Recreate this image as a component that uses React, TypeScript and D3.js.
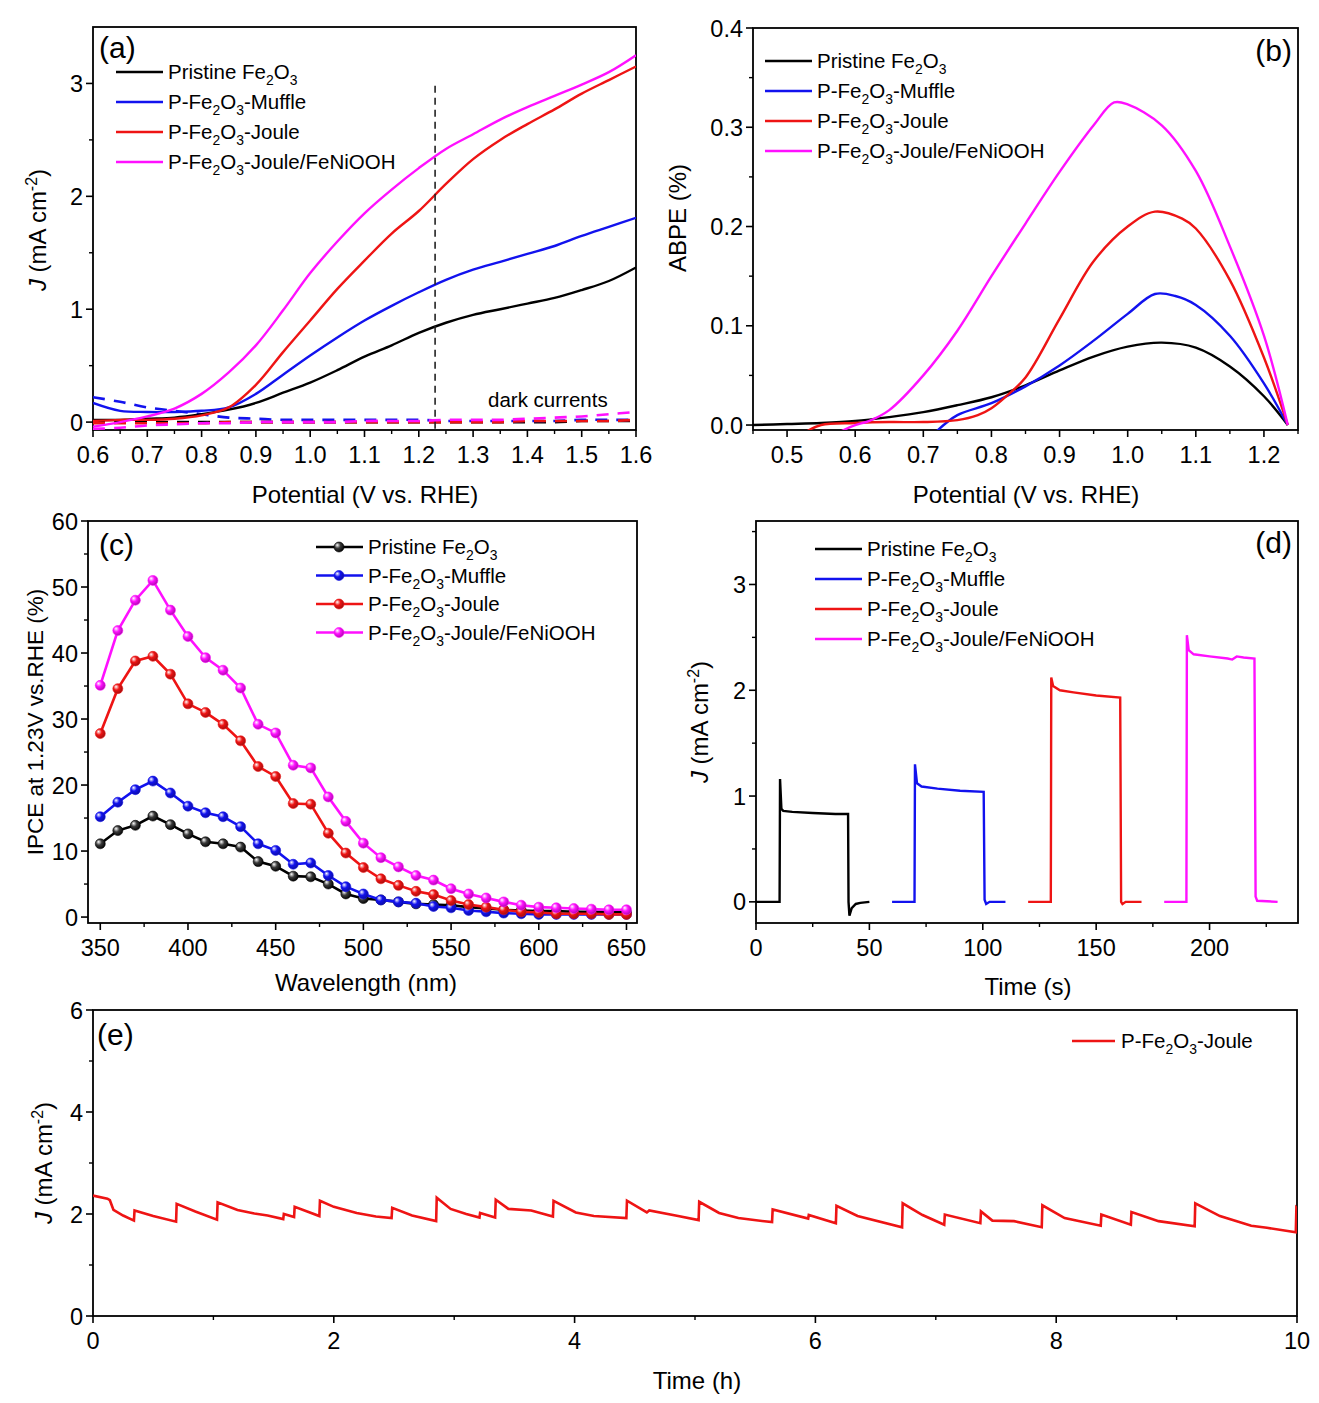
import React from 'react';
import * as d3 from 'd3';

const FONT = '"Liberation Sans", Arial, Helvetica, sans-serif';

const sampleNames = ['Pristine Fe2O3', 'P-Fe2O3-Muffle', 'P-Fe2O3-Joule', 'P-Fe2O3-Joule/FeNiOOH'];
const sampleColors = ['#000000', '#1212ee', '#ee1414', '#ff10ff'];

// (a) LSV, light (solid) and dark (dashed)
const lsvPotential = [0.6, 0.65, 0.7, 0.75, 0.8, 0.85, 0.9, 0.95, 1.0, 1.05, 1.1, 1.15, 1.2, 1.25, 1.3, 1.35, 1.4, 1.45, 1.5, 1.55, 1.6];
const lsvPristine = [0.02, 0.02, 0.03, 0.04, 0.07, 0.11, 0.17, 0.26, 0.35, 0.46, 0.58, 0.68, 0.79, 0.88, 0.95, 1.0, 1.05, 1.1, 1.17, 1.25, 1.37];
const lsvMuffle = [0.17, 0.1, 0.09, 0.09, 0.1, 0.13, 0.25, 0.42, 0.59, 0.75, 0.9, 1.03, 1.15, 1.26, 1.35, 1.42, 1.49, 1.56, 1.65, 1.73, 1.81];
const lsvJoule = [0.01, 0.02, 0.02, 0.03, 0.06, 0.13, 0.33, 0.62, 0.9, 1.18, 1.43, 1.67, 1.87, 2.11, 2.33, 2.5, 2.64, 2.77, 2.91, 3.03, 3.15];
const lsvFeNiOOH = [-0.04, 0.0, 0.05, 0.12, 0.25, 0.44, 0.68, 0.99, 1.32, 1.6, 1.85, 2.06, 2.25, 2.42, 2.55, 2.68, 2.79, 2.89, 2.99, 3.1, 3.25];
const darkPristine = [0.0, 0.0, 0.0, 0.0, 0.0, 0.0, 0.0, 0.0, 0.0, 0.0, 0.0, 0.0, 0.0, 0.0, 0.0, 0.0, 0.0, 0.0, 0.01, 0.01, 0.01];
const darkMuffle = [0.22, 0.18, 0.13, 0.1, 0.07, 0.04, 0.03, 0.02, 0.02, 0.02, 0.02, 0.02, 0.02, 0.01, 0.01, 0.01, 0.01, 0.01, 0.02, 0.02, 0.02];
const darkJoule = [-0.01, -0.01, -0.01, -0.01, -0.01, 0.0, 0.0, 0.0, 0.0, 0.0, 0.0, 0.0, 0.0, 0.0, 0.0, 0.0, 0.01, 0.01, 0.01, 0.01, 0.02];
const darkFeNiOOH = [-0.06, -0.05, -0.03, -0.02, -0.01, -0.01, 0.0, 0.0, 0.0, 0.0, 0.01, 0.01, 0.01, 0.02, 0.02, 0.02, 0.03, 0.04, 0.05, 0.07, 0.09];
const biasPotential = 1.23;

// (b) ABPE
const abpePristineV = [0.45, 0.5, 0.55, 0.6, 0.65, 0.7, 0.75, 0.8, 0.85, 0.9, 0.95, 1.0, 1.05, 1.1, 1.15, 1.2, 1.235];
const abpePristine = [0.0, 0.001, 0.002, 0.004, 0.008, 0.013, 0.02, 0.028, 0.04, 0.055, 0.069, 0.079, 0.083, 0.078, 0.059, 0.029, 0.0];
const abpeMuffleV = [0.72, 0.75, 0.8, 0.85, 0.9, 0.95, 1.0, 1.04, 1.07, 1.1, 1.15, 1.2, 1.235];
const abpeMuffle = [-0.006, 0.01, 0.022, 0.039, 0.06, 0.085, 0.112, 0.132, 0.13, 0.121, 0.09, 0.042, 0.0];
const abpeJouleV = [0.53, 0.55, 0.6, 0.65, 0.7, 0.75, 0.78, 0.8, 0.82, 0.85, 0.9, 0.95, 1.0, 1.04, 1.08, 1.1, 1.15, 1.2, 1.235];
const abpeJoule = [-0.006, 0.0, 0.002, 0.003, 0.003, 0.005, 0.01, 0.017, 0.028, 0.048, 0.107, 0.165, 0.2, 0.215, 0.208, 0.198, 0.146, 0.068, 0.0];
const abpeFeNiOOHV = [0.58, 0.6, 0.62, 0.65, 0.7, 0.75, 0.8, 0.85, 0.9, 0.95, 0.98, 1.0, 1.05, 1.1, 1.15, 1.2, 1.235];
const abpeFeNiOOH = [-0.006, 0.0, 0.004, 0.015, 0.05, 0.095, 0.15, 0.203, 0.255, 0.302, 0.325, 0.323, 0.302, 0.256, 0.18, 0.09, 0.0];

// (c) IPCE
const ipceWavelength = [350, 360, 370, 380, 390, 400, 410, 420, 430, 440, 450, 460, 470, 480, 490, 500, 510, 520, 530, 540, 550, 560, 570, 580, 590, 600, 610, 620, 630, 640, 650];
const ipcePristine = [11.1, 13.1, 13.9, 15.3, 14.0, 12.6, 11.4, 11.1, 10.6, 8.4, 7.7, 6.2, 6.1, 5.0, 3.5, 2.8, 2.6, 2.3, 2.0, 1.9, 1.8, 1.5, 1.3, 1.1, 1.0, 0.9, 0.9, 0.8, 0.8, 0.8, 0.7];
const ipceMuffle = [15.2, 17.4, 19.3, 20.6, 18.8, 16.8, 15.8, 15.2, 13.7, 11.1, 10.1, 8.0, 8.2, 6.3, 4.6, 3.5, 2.6, 2.3, 2.1, 1.6, 1.4, 1.0, 0.8, 0.6, 0.5, 0.4, 0.4, 0.4, 0.4, 0.4, 0.4];
const ipceJoule = [27.8, 34.6, 38.8, 39.5, 36.8, 32.3, 31.0, 29.2, 26.7, 22.8, 21.3, 17.2, 17.1, 12.7, 9.7, 7.5, 5.8, 4.8, 3.9, 3.4, 2.5, 1.9, 1.5, 1.1, 0.8, 0.7, 0.5, 0.5, 0.5, 0.4, 0.4];
const ipceFeNiOOH = [35.1, 43.4, 48.0, 51.0, 46.5, 42.5, 39.3, 37.4, 34.7, 29.2, 27.9, 23.0, 22.6, 18.2, 14.5, 11.2, 9.0, 7.6, 6.3, 5.6, 4.3, 3.5, 2.9, 2.3, 1.8, 1.5, 1.4, 1.3, 1.2, 1.1, 1.1];

// (d) chopped transients
const chopPristineT = [0, 10.4, 10.6, 11.2, 12, 16, 25, 35, 40.6, 40.8, 41.2, 42.2, 44, 46, 50];
const chopPristine = [0, 0, 1.16, 0.88, 0.86, 0.85, 0.84, 0.83, 0.83, 0.0, -0.13, -0.06, -0.02, -0.01, 0];
const chopMuffleT = [60, 69.9, 70.1, 71, 73, 80, 90, 100.4, 100.8, 101.5, 103, 110];
const chopMuffle = [0, 0, 1.3, 1.12, 1.09, 1.07, 1.05, 1.04, 0.02, -0.02, 0, 0];
const chopJouleT = [120, 130, 130.2, 131, 134, 140, 150, 160.6, 161, 161.6, 163, 170];
const chopJoule = [0, 0, 2.12, 2.04, 2.0, 1.98, 1.95, 1.93, 0.0, -0.02, 0, 0];
const chopFeNiOOHT = [180, 189.8, 190, 190.8, 193, 200, 208, 210, 212, 215, 219.8, 220.3, 221, 230];
const chopFeNiOOH = [0, 0, 2.52, 2.38, 2.34, 2.32, 2.3, 2.29, 2.32, 2.31, 2.3, 0.05, 0.01, 0];

// (e) 10 h stability, [hours, J]
const stabilityTrace: [number, number][] = [
  [0, 2.36], [0.12, 2.3], [0.14, 2.27], [0.17, 2.08], [0.25, 1.97], [0.34, 1.87], [0.345, 2.07], [0.5, 1.96],
  [0.69, 1.85], [0.695, 2.2], [0.85, 2.05], [1.03, 1.89], [1.035, 2.23], [1.2, 2.08], [1.34, 2.01], [1.45, 1.97],
  [1.58, 1.9], [1.585, 2.0], [1.67, 1.94], [1.675, 2.14], [1.88, 1.96], [1.885, 2.26], [2.0, 2.14], [2.19, 2.02],
  [2.35, 1.95], [2.48, 1.92], [2.485, 2.12], [2.65, 1.97], [2.85, 1.86], [2.855, 2.32], [2.97, 2.1], [3.1, 2.0],
  [3.21, 1.93], [3.215, 2.02], [3.34, 1.93], [3.345, 2.28], [3.45, 2.1], [3.64, 2.07], [3.82, 1.95], [3.825, 2.26],
  [4.01, 2.03], [4.16, 1.96], [4.43, 1.92], [4.435, 2.26], [4.6, 2.03], [4.62, 2.07], [4.86, 1.96], [5.03, 1.88],
  [5.035, 2.24], [5.2, 2.02], [5.36, 1.92], [5.64, 1.84], [5.645, 2.09], [5.94, 1.91], [5.945, 1.98], [6.17, 1.82],
  [6.175, 2.16], [6.35, 1.96], [6.72, 1.74], [6.725, 2.21], [6.89, 1.98], [7.07, 1.79], [7.075, 1.99], [7.37, 1.82],
  [7.375, 2.05], [7.47, 1.87], [7.65, 1.86], [7.88, 1.74], [7.885, 2.17], [8.07, 1.92], [8.37, 1.77], [8.375, 1.99],
  [8.62, 1.79], [8.625, 2.04], [8.85, 1.86], [9.15, 1.76], [9.155, 2.21], [9.36, 1.96], [9.62, 1.77], [9.75, 1.73],
  [9.99, 1.64], [9.995, 2.12], [10.02, 2.05],
];

const TICK_SIZE = 23.5;
const TITLE_SIZE = 24;
const LEGEND_SIZE = 20.5;
const TAG_SIZE = 30;

const zip = (xs: number[], ys: number[]) => xs.map((v, i) => [v, ys[i]] as [number, number]);

type Seg = { t: string; sub?: boolean };
function chemSegments(s: string): Seg[] {
  const segs: Seg[] = [];
  s.split(/(Fe2O3)/).forEach((p) => {
    if (p === 'Fe2O3') segs.push({ t: 'Fe' }, { t: '2', sub: true }, { t: 'O' }, { t: '3', sub: true });
    else if (p) segs.push({ t: p });
  });
  return segs;
}

function ChemText({ label, x, y, size }: { label: string; x: number; y: number; size: number }) {
  let shift = 0;
  return (
    <text x={x} y={y} fontSize={size}>
      {chemSegments(label).map((sg, i) => {
        const target = sg.sub ? size * 0.3 : 0;
        const dy = target - shift;
        shift = target;
        return (
          <tspan key={i} dy={dy} fontSize={sg.sub ? size * 0.68 : undefined}>
            {sg.t}
          </tspan>
        );
      })}
    </text>
  );
}

function JTitle({ x, y }: { x: number; y: number }) {
  return (
    <text transform={`translate(${x},${y}) rotate(-90)`} textAnchor="middle" fontSize={TITLE_SIZE}>
      <tspan fontStyle="italic">J</tspan> (mA cm
      <tspan dy={-9} fontSize={16}>-2</tspan>
      <tspan dy={9}>)</tspan>
    </text>
  );
}

type AxesProps = {
  id: string;
  x: d3.ScaleLinear<number, number>;
  y: d3.ScaleLinear<number, number>;
  xTicks: number[];
  xMinor: number[];
  yTicks: number[];
  yMinor: number[];
  xFormat: (v: number) => string;
  yFormat: (v: number) => string;
};

function Axes({ id, x, y, xTicks, xMinor, yTicks, yMinor, xFormat, yFormat }: AxesProps) {
  const [left, right] = x.range();
  const [bottom, top] = y.range();
  return (
    <g>
      <defs>
        <clipPath id={id}>
          <rect x={left} y={top} width={right - left} height={bottom - top} />
        </clipPath>
      </defs>
      {xMinor.map((t) => (
        <line key={'xm' + t} x1={x(t)} x2={x(t)} y1={bottom} y2={bottom + 4} stroke="#000" strokeWidth={1.4} />
      ))}
      {xTicks.map((t) => (
        <g key={'x' + t}>
          <line x1={x(t)} x2={x(t)} y1={bottom} y2={bottom + 7} stroke="#000" strokeWidth={1.6} />
          <text x={x(t)} y={bottom + 33} textAnchor="middle" fontSize={TICK_SIZE}>
            {xFormat(t)}
          </text>
        </g>
      ))}
      {yMinor.map((t) => (
        <line key={'ym' + t} x1={left} x2={left - 4} y1={y(t)} y2={y(t)} stroke="#000" strokeWidth={1.4} />
      ))}
      {yTicks.map((t) => (
        <g key={'y' + t}>
          <line x1={left} x2={left - 7} y1={y(t)} y2={y(t)} stroke="#000" strokeWidth={1.6} />
          <text x={left - 10} y={y(t) + 8.5} textAnchor="end" fontSize={TICK_SIZE}>
            {yFormat(t)}
          </text>
        </g>
      ))}
      <rect x={left} y={top} width={right - left} height={bottom - top} fill="none" stroke="#000" strokeWidth={1.8} />
    </g>
  );
}

function LineLegend({ x, y, step, names, colors, ball }: { x: number; y: number; step: number; names: string[]; colors: string[]; ball?: boolean }) {
  return (
    <g>
      {names.map((n, i) => (
        <g key={n}>
          <line x1={x} x2={x + 47} y1={y + i * step} y2={y + i * step} stroke={colors[i]} strokeWidth={2.6} />
          {ball && <circle cx={x + 23} cy={y + i * step} r={5} fill={`url(#ball-${i})`} stroke={colors[i]} strokeWidth={0.6} />}
          <ChemText label={n} x={x + 52} y={y + i * step + 7} size={LEGEND_SIZE} />
        </g>
      ))}
    </g>
  );
}

function PanelA() {
  const x = d3.scaleLinear().domain([0.6, 1.6]).range([93, 636]);
  const y = d3.scaleLinear().domain([-0.07, 3.5]).range([430, 27]);
  const line = d3.line<[number, number]>().x((d) => x(d[0])).y((d) => y(d[1])).curve(d3.curveCatmullRom.alpha(0.5));
  const light = [lsvPristine, lsvMuffle, lsvJoule, lsvFeNiOOH];
  const dark = [darkPristine, darkMuffle, darkJoule, darkFeNiOOH];
  return (
    <g>
      <Axes
        id="clip-a" x={x} y={y}
        xTicks={[0.6, 0.7, 0.8, 0.9, 1.0, 1.1, 1.2, 1.3, 1.4, 1.5, 1.6]}
        xMinor={d3.range(0.65, 1.6, 0.1)}
        yTicks={[0, 1, 2, 3]} yMinor={[0.5, 1.5, 2.5]}
        xFormat={d3.format('.1f')} yFormat={d3.format('d')}
      />
      <g clipPath="url(#clip-a)">
        {dark.map((s, i) => (
          <path key={'d' + i} d={line(zip(lsvPotential, s)) || ''} fill="none" stroke={sampleColors[i]} strokeWidth={2.6} strokeDasharray="12 9" />
        ))}
        {light.map((s, i) => (
          <path key={'l' + i} d={line(zip(lsvPotential, s)) || ''} fill="none" stroke={sampleColors[i]} strokeWidth={2.4} />
        ))}
        <line x1={x(biasPotential)} x2={x(biasPotential)} y1={y(2.98)} y2={y(-0.07)} stroke="#222" strokeWidth={1.6} strokeDasharray="7 5" />
      </g>
      <text x={488} y={407} fontSize={LEGEND_SIZE}>dark currents</text>
      <text x={99} y={58} fontSize={TAG_SIZE}>(a)</text>
      <LineLegend x={116} y={72} step={30} names={sampleNames} colors={sampleColors} />
      <text x={365} y={503} textAnchor="middle" fontSize={TITLE_SIZE}>Potential (V vs. RHE)</text>
      <JTitle x={46} y={230} />
    </g>
  );
}

function PanelB() {
  const x = d3.scaleLinear().domain([0.45, 1.25]).range([753, 1298]);
  const y = d3.scaleLinear().domain([-0.005, 0.4]).range([430, 28]);
  const line = d3.line<[number, number]>().x((d) => x(d[0])).y((d) => y(d[1])).curve(d3.curveCatmullRom.alpha(0.5));
  const series = [
    zip(abpePristineV, abpePristine),
    zip(abpeMuffleV, abpeMuffle),
    zip(abpeJouleV, abpeJoule),
    zip(abpeFeNiOOHV, abpeFeNiOOH),
  ];
  return (
    <g>
      <Axes
        id="clip-b" x={x} y={y}
        xTicks={[0.5, 0.6, 0.7, 0.8, 0.9, 1.0, 1.1, 1.2]}
        xMinor={d3.range(0.45, 1.26, 0.1)}
        yTicks={[0, 0.1, 0.2, 0.3, 0.4]} yMinor={[0.05, 0.15, 0.25, 0.35]}
        xFormat={d3.format('.1f')} yFormat={d3.format('.1f')}
      />
      <g clipPath="url(#clip-b)">
        {series.map((s, i) => (
          <path key={i} d={line(s) || ''} fill="none" stroke={sampleColors[i]} strokeWidth={2.4} />
        ))}
      </g>
      <text x={1292} y={61} textAnchor="end" fontSize={TAG_SIZE}>(b)</text>
      <LineLegend x={765} y={61} step={30} names={sampleNames} colors={sampleColors} />
      <text x={1026} y={503} textAnchor="middle" fontSize={TITLE_SIZE}>Potential (V vs. RHE)</text>
      <text transform="translate(686,218) rotate(-90)" textAnchor="middle" fontSize={TITLE_SIZE}>ABPE (%)</text>
    </g>
  );
}

function PanelC() {
  const x = d3.scaleLinear().domain([343, 656]).range([88, 637]);
  const y = d3.scaleLinear().domain([-0.9, 60]).range([923, 521]);
  const line = d3.line<[number, number]>().x((d) => x(d[0])).y((d) => y(d[1]));
  const series = [ipcePristine, ipceMuffle, ipceJoule, ipceFeNiOOH];
  return (
    <g>
      <Axes
        id="clip-c" x={x} y={y}
        xTicks={[350, 400, 450, 500, 550, 600, 650]}
        xMinor={[375, 425, 475, 525, 575, 625]}
        yTicks={[0, 10, 20, 30, 40, 50, 60]} yMinor={[5, 15, 25, 35, 45, 55]}
        xFormat={d3.format('d')} yFormat={d3.format('d')}
      />
      <g clipPath="url(#clip-c)">
        {series.map((s, i) => {
          const pts = zip(ipceWavelength, s);
          return (
            <g key={i}>
              <path d={line(pts) || ''} fill="none" stroke={sampleColors[i]} strokeWidth={2.6} />
              {pts.map((p, j) => (
                <circle key={j} cx={x(p[0])} cy={y(p[1])} r={5} fill={`url(#ball-${i})`} stroke={sampleColors[i]} strokeWidth={0.6} />
              ))}
            </g>
          );
        })}
      </g>
      <text x={99} y={555} fontSize={TAG_SIZE}>(c)</text>
      <LineLegend x={316} y={547} step={28.5} names={sampleNames} colors={sampleColors} ball />
      <text x={366} y={991} textAnchor="middle" fontSize={TITLE_SIZE}>Wavelength (nm)</text>
      <text transform="translate(43,722) rotate(-90)" textAnchor="middle" fontSize={22.5}>IPCE at 1.23V vs.RHE (%)</text>
    </g>
  );
}

function PanelD() {
  const x = d3.scaleLinear().domain([0, 239]).range([756, 1298]);
  const y = d3.scaleLinear().domain([-0.2, 3.6]).range([923, 521]);
  const line = d3.line<[number, number]>().x((d) => x(d[0])).y((d) => y(d[1]));
  const series = [
    zip(chopPristineT, chopPristine),
    zip(chopMuffleT, chopMuffle),
    zip(chopJouleT, chopJoule),
    zip(chopFeNiOOHT, chopFeNiOOH),
  ];
  return (
    <g>
      <Axes
        id="clip-d" x={x} y={y}
        xTicks={[0, 50, 100, 150, 200]}
        xMinor={[25, 75, 125, 175, 225]}
        yTicks={[0, 1, 2, 3]} yMinor={[0.5, 1.5, 2.5, 3.5]}
        xFormat={d3.format('d')} yFormat={d3.format('d')}
      />
      <g clipPath="url(#clip-d)">
        {series.map((s, i) => (
          <path key={i} d={line(s) || ''} fill="none" stroke={sampleColors[i]} strokeWidth={2.4} />
        ))}
      </g>
      <text x={1292} y={553} textAnchor="end" fontSize={TAG_SIZE}>(d)</text>
      <LineLegend x={815} y={549} step={30} names={sampleNames} colors={sampleColors} />
      <text x={1028} y={995} textAnchor="middle" fontSize={TITLE_SIZE}>Time (s)</text>
      <JTitle x={708} y={722} />
    </g>
  );
}

function PanelE() {
  const x = d3.scaleLinear().domain([0, 10]).range([93, 1297]);
  const y = d3.scaleLinear().domain([0, 6]).range([1316, 1010]);
  const line = d3.line<[number, number]>().x((d) => x(d[0])).y((d) => y(d[1]));
  return (
    <g>
      <Axes
        id="clip-e" x={x} y={y}
        xTicks={[0, 2, 4, 6, 8, 10]}
        xMinor={[1, 3, 5, 7, 9]}
        yTicks={[0, 2, 4, 6]} yMinor={[1, 3, 5]}
        xFormat={d3.format('d')} yFormat={d3.format('d')}
      />
      <g clipPath="url(#clip-e)">
        <path d={line(stabilityTrace) || ''} fill="none" stroke={sampleColors[2]} strokeWidth={2.6} />
      </g>
      <text x={97} y={1045} fontSize={TAG_SIZE}>(e)</text>
      <line x1={1072} x2={1115} y1={1041} y2={1041} stroke={sampleColors[2]} strokeWidth={2.6} />
      <ChemText label={sampleNames[2]} x={1121} y={1048} size={LEGEND_SIZE} />
      <text x={697} y={1389} textAnchor="middle" fontSize={TITLE_SIZE}>Time (h)</text>
      <JTitle x={52} y={1163} />
    </g>
  );
}

export default function App() {
  const W = 1319;
  const H = 1403;
  return (
    <svg width={W} height={H} fontFamily={FONT} style={{ position: 'absolute', left: 0, top: 0, background: '#fff' }}>
      <defs>
        {sampleColors.map((c, i) => {
          const base = d3.color(c)!;
          const mid = i === 0 ? '#3a3a3a' : c;
          return (
            <radialGradient key={i} id={`ball-${i}`} cx="0.4" cy="0.4" r="0.65" fx="0.32" fy="0.3">
              <stop offset="0" stopColor="#ffffff" />
              <stop offset="0.45" stopColor={mid} />
              <stop offset="1" stopColor={base.darker(1.2).formatHex()} />
            </radialGradient>
          );
        })}
      </defs>
      <rect width={W} height={H} fill="#fff" />
      <PanelA />
      <PanelB />
      <PanelC />
      <PanelD />
      <PanelE />
    </svg>
  );
}
